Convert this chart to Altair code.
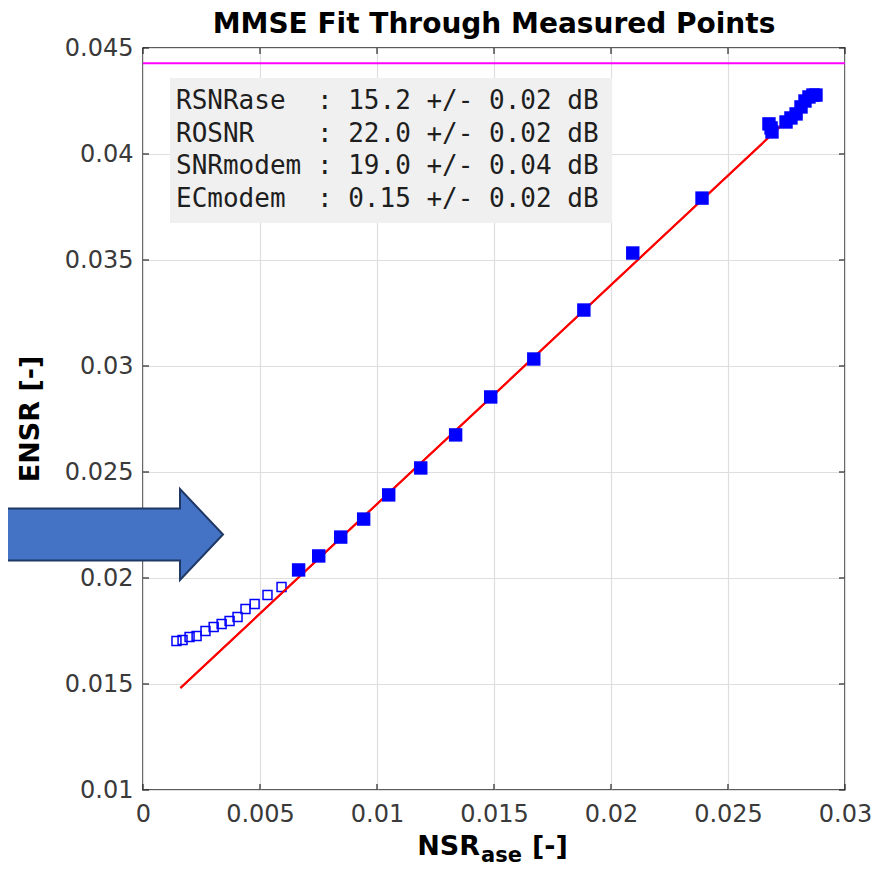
import altair as alt
import pandas as pd

# ---------------- data ----------------
meas_x = [0.00665, 0.00751, 0.00845, 0.00943, 0.01050, 0.01187, 0.01336, 0.01486,
          0.01670, 0.01884, 0.02093, 0.02389, 0.02675, 0.02684, 0.02688, 0.02748,
          0.02769, 0.02791, 0.02812, 0.02829, 0.02846, 0.02863, 0.02876]
meas_y = [0.02038, 0.02104, 0.02193, 0.02278, 0.02392, 0.02519, 0.02675, 0.02854,
          0.03033, 0.03264, 0.03533, 0.03792, 0.04142, 0.04123, 0.04104, 0.04151,
          0.04170, 0.04189, 0.04222, 0.04250, 0.04269, 0.04278, 0.04278]

excl_x = [0.00143, 0.00169, 0.00199, 0.00229, 0.00267, 0.00302, 0.00336,
          0.00370, 0.00404, 0.00438, 0.00477, 0.00532, 0.00592]
excl_y = [0.01703, 0.01708, 0.01722, 0.01726, 0.01750, 0.01769, 0.01783,
          0.01797, 0.01816, 0.01854, 0.01877, 0.01920, 0.01958]

fit_x = [0.0016, 0.0287]
fit_y = [0.01481, 0.04281]

ref_level = [0.04428]

x_ticks = [0, 0.005, 0.01, 0.015, 0.02, 0.025, 0.03]
y_ticks = [0.01, 0.015, 0.02, 0.025, 0.03, 0.035, 0.04, 0.045]

info_names = ["RSNRase", "ROSNR", "SNRmodem", "ECmodem"]
info_vals = ["15.2", "22.0", "19.0", "0.15"]
info_errs = ["0.02", "0.02", "0.04", "0.02"]

chart_title = "MMSE Fit Through Measured Points"
y_title = "ENSR [-]"
x_title_main, x_title_sub, x_title_unit = "NSR", "ase", "[-]"

# ---------------- layout ----------------
W, H = 702, 742
FONT = "DejaVu Sans"
MONO = "DejaVu Sans Mono"
FRAME = "#262626"

xs = alt.Scale(domain=[0, 0.03], nice=False, zero=False)
ys = alt.Scale(domain=[0.01, 0.045], nice=False, zero=False)

meas_df = pd.DataFrame({"x": meas_x, "y": meas_y})
excl_df = pd.DataFrame({"x": excl_x, "y": excl_y})
fit_df = pd.DataFrame({"x": fit_x, "y": fit_y})
ref_df = pd.DataFrame({"y": ref_level})
xt_df = pd.DataFrame({"x": x_ticks})
yt_df = pd.DataFrame({"y": y_ticks})

name_w = max(len(n) for n in info_names) + 1
lines = [
    n.ljust(name_w).replace(" ", "\u00a0") + ":\u00a0" + v + "\u00a0+/-\u00a0" + e + "\u00a0dB"
    for n, v, e in zip(info_names, info_vals, info_errs)
]
info_df = pd.DataFrame({"txt": ["\n".join(lines)]})
one = pd.DataFrame({"a": [0]})

x_axis = alt.Axis(values=x_ticks, format=".3~f", title=None, grid=True,
                  gridColor="#dedede", gridWidth=1.2, ticks=False, domain=False,
                  labelFont=FONT, labelFontSize=24, labelColor="#3a3a3a",
                  labelPadding=12, labelFlush=False, labelOverlap=False)
y_axis = alt.Axis(values=y_ticks, format=".3~f", title=None, grid=True,
                  gridColor="#dedede", gridWidth=1.2, ticks=False, domain=False,
                  labelFont=FONT, labelFontSize=24, labelColor="#3a3a3a",
                  labelPadding=10, labelFlush=False, labelOverlap=False)

X = alt.X("x:Q", scale=xs, axis=x_axis)
Y = alt.Y("y:Q", scale=ys, axis=y_axis)

base = alt.Chart(fit_df).mark_line(color="#ff0000", strokeWidth=2).encode(x=X, y=Y)

box = alt.Chart(one).mark_rect(fill="#f0f0f0").encode(
    x=alt.value(27), x2=alt.value(469), y=alt.value(30), y2=alt.value(175)
)

info = alt.Chart(info_df).mark_text(
    font=MONO, fontSize=26, lineBreak="\n", lineHeight=32.5,
    align="left", baseline="alphabetic", color="#1e1e1e"
).encode(text="txt:N", x=alt.value(33), y=alt.value(61))

ref_rule = alt.Chart(ref_df).mark_rule(color="#ff00ff", strokeWidth=2).encode(y=Y)

open_pts = alt.Chart(excl_df).mark_point(
    shape="square", size=80, filled=False, color="#0000ff", strokeWidth=1.5, opacity=1
).encode(x=X, y=Y)

fill_pts = alt.Chart(meas_df).mark_point(
    shape="square", size=180, filled=True, color="#0000ff", opacity=1
).encode(x=X, y=Y)

line_on_top = alt.Chart(fit_df).mark_line(color="#ff0000", strokeWidth=2).encode(x=X, y=Y)

tick_b = alt.Chart(xt_df).mark_rule(color=FRAME, strokeWidth=1.2).encode(
    x=X, y=alt.value(H), y2=alt.value(H - 6))
tick_t = alt.Chart(xt_df).mark_rule(color=FRAME, strokeWidth=1.2).encode(
    x=X, y=alt.value(0), y2=alt.value(6))
tick_l = alt.Chart(yt_df).mark_rule(color=FRAME, strokeWidth=1.2).encode(
    y=Y, x=alt.value(0), x2=alt.value(6))
tick_r = alt.Chart(yt_df).mark_rule(color=FRAME, strokeWidth=1.2).encode(
    y=Y, x=alt.value(W), x2=alt.value(W - 6))

arrow_path = ("M -1.2 -0.242 L 0.6 -0.242 L 0.6 -0.423 L 1 0 L 0.6 0.423 "
              "L 0.6 0.242 L -1.2 0.242 Z")
arrow = alt.Chart(one).mark_point(
    shape=arrow_path, size=46225, filled=True, fill="#4472c4",
    stroke="#1f3864", strokeWidth=2, opacity=1, strokeOpacity=1, fillOpacity=1
).encode(x=alt.value(-27.5), y=alt.value(486.5))

title_t = alt.Chart(one).mark_text(
    text=chart_title, font=FONT, fontSize=28, fontWeight="bold",
    align="center", baseline="alphabetic", color="#000000"
).encode(x=alt.value(W / 2), y=alt.value(-15))

ytitle_t = alt.Chart(one).mark_text(
    text=y_title, font=FONT, fontSize=27, fontWeight="bold", angle=270,
    align="center", baseline="middle", color="#000000"
).encode(x=alt.value(-112), y=alt.value(H / 2))

xt_main = alt.Chart(one).mark_text(
    text=x_title_main, font=FONT, fontSize=27, fontWeight="bold",
    align="right", baseline="alphabetic", color="#000000"
).encode(x=alt.value(337), y=alt.value(807))
xt_sub = alt.Chart(one).mark_text(
    text=x_title_sub, font=FONT, fontSize=21, fontWeight="bold",
    align="left", baseline="alphabetic", color="#000000"
).encode(x=alt.value(338), y=alt.value(814))
xt_unit = alt.Chart(one).mark_text(
    text=x_title_unit, font=FONT, fontSize=27, fontWeight="bold",
    align="left", baseline="alphabetic", color="#000000"
).encode(x=alt.value(389), y=alt.value(807))

chart = alt.layer(
    base, box, info, ref_rule, open_pts, line_on_top, fill_pts,
    tick_b, tick_t, tick_l, tick_r, arrow, title_t, ytitle_t, xt_main, xt_sub, xt_unit
).properties(
    width=W, height=H,
    autosize=alt.AutoSizeParams(type="none"),
    padding={"left": 135, "top": 40, "right": 30, "bottom": 78},
).configure_view(stroke=FRAME, strokeWidth=1.5)

chart.save("out.html", embed_options={"renderer": "svg", "actions": False})
